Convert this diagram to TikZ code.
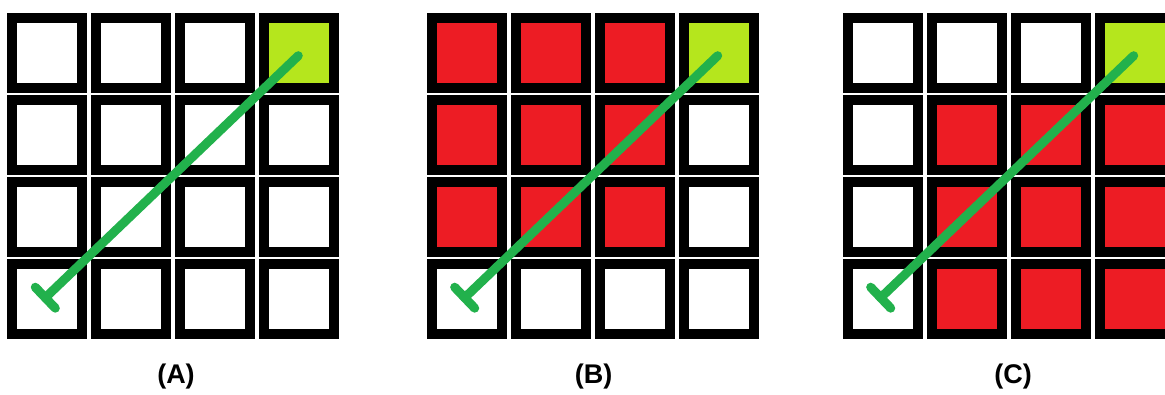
\documentclass[tikz,border=0pt]{standalone}
\usepackage{fontspec}
\setmainfont{Liberation Sans}
\usetikzlibrary{calc}
\definecolor{pathgreen}{HTML}{22B14C}
\definecolor{goallime}{HTML}{B5E61D}
\definecolor{blockred}{HTML}{ED1C24}
\begin{document}
\begin{tikzpicture}[x=1pt,y=-1pt,
  cell/.style={draw=black, line width=10pt, minimum size=70pt, inner sep=0pt, fill=white},
  goal/.style={cell, fill=goallime},
  blocked/.style={cell, fill=blockred},
  route/.style={draw=pathgreen, line width=9pt, line cap=round, line join=round},
  caption/.style={inner sep=0pt, font=\fontsize{27}{30}\selectfont\bfseries}]
  \useasboundingbox (0,0) rectangle (1165,394);
  \begin{scope}
    \clip (0,0) rectangle (1165,394);
    % three 4x4 grids: name / left edge / which cells are blocked
    \foreach \g/\ox in {A/7.3, B/426.7, C/842.7} {
      \foreach \r in {0,...,3} {
        \foreach \c in {0,...,3} {
          \pgfmathsetmacro{\cx}{\ox+40+84*\c}
          \pgfmathsetmacro{\cy}{52.7+82.2*\r}
          \def\kind{cell}
          \ifnum\r=0 \ifnum\c=3 \def\kind{goal}\fi\fi
          \if B\g
            \ifnum\r<3 \ifnum\c<3 \def\kind{blocked}\fi\fi
          \fi
          \if C\g
            \ifnum\r>0 \ifnum\c>0 \def\kind{blocked}\fi\fi
          \fi
          \node[\kind] (\g-\r-\c) at (\cx,\cy) {};
        }
      }
      % route from the start cell to the goal cell, with a bar at its start
      \coordinate (\g-s) at ($(\g-3-0.center)+(-2,-1.6)$);
      \coordinate (\g-e) at ($(\g-0-3.center)+(-1,3)$);
      \draw[route] (\g-s) -- (\g-e);
      \draw[route] ($(\g-s)!14.5pt!90:(\g-e)$) -- ($(\g-s)!14.5pt!-90:(\g-e)$);
    }
  \end{scope}
  \node[caption] (capA) at (176,376.5) {(A)};
  \node[caption] (capB) at (593.5,376.5) {(B)};
  \node[caption] (capC) at (1013,376.5) {(C)};
\end{tikzpicture}
\end{document}
